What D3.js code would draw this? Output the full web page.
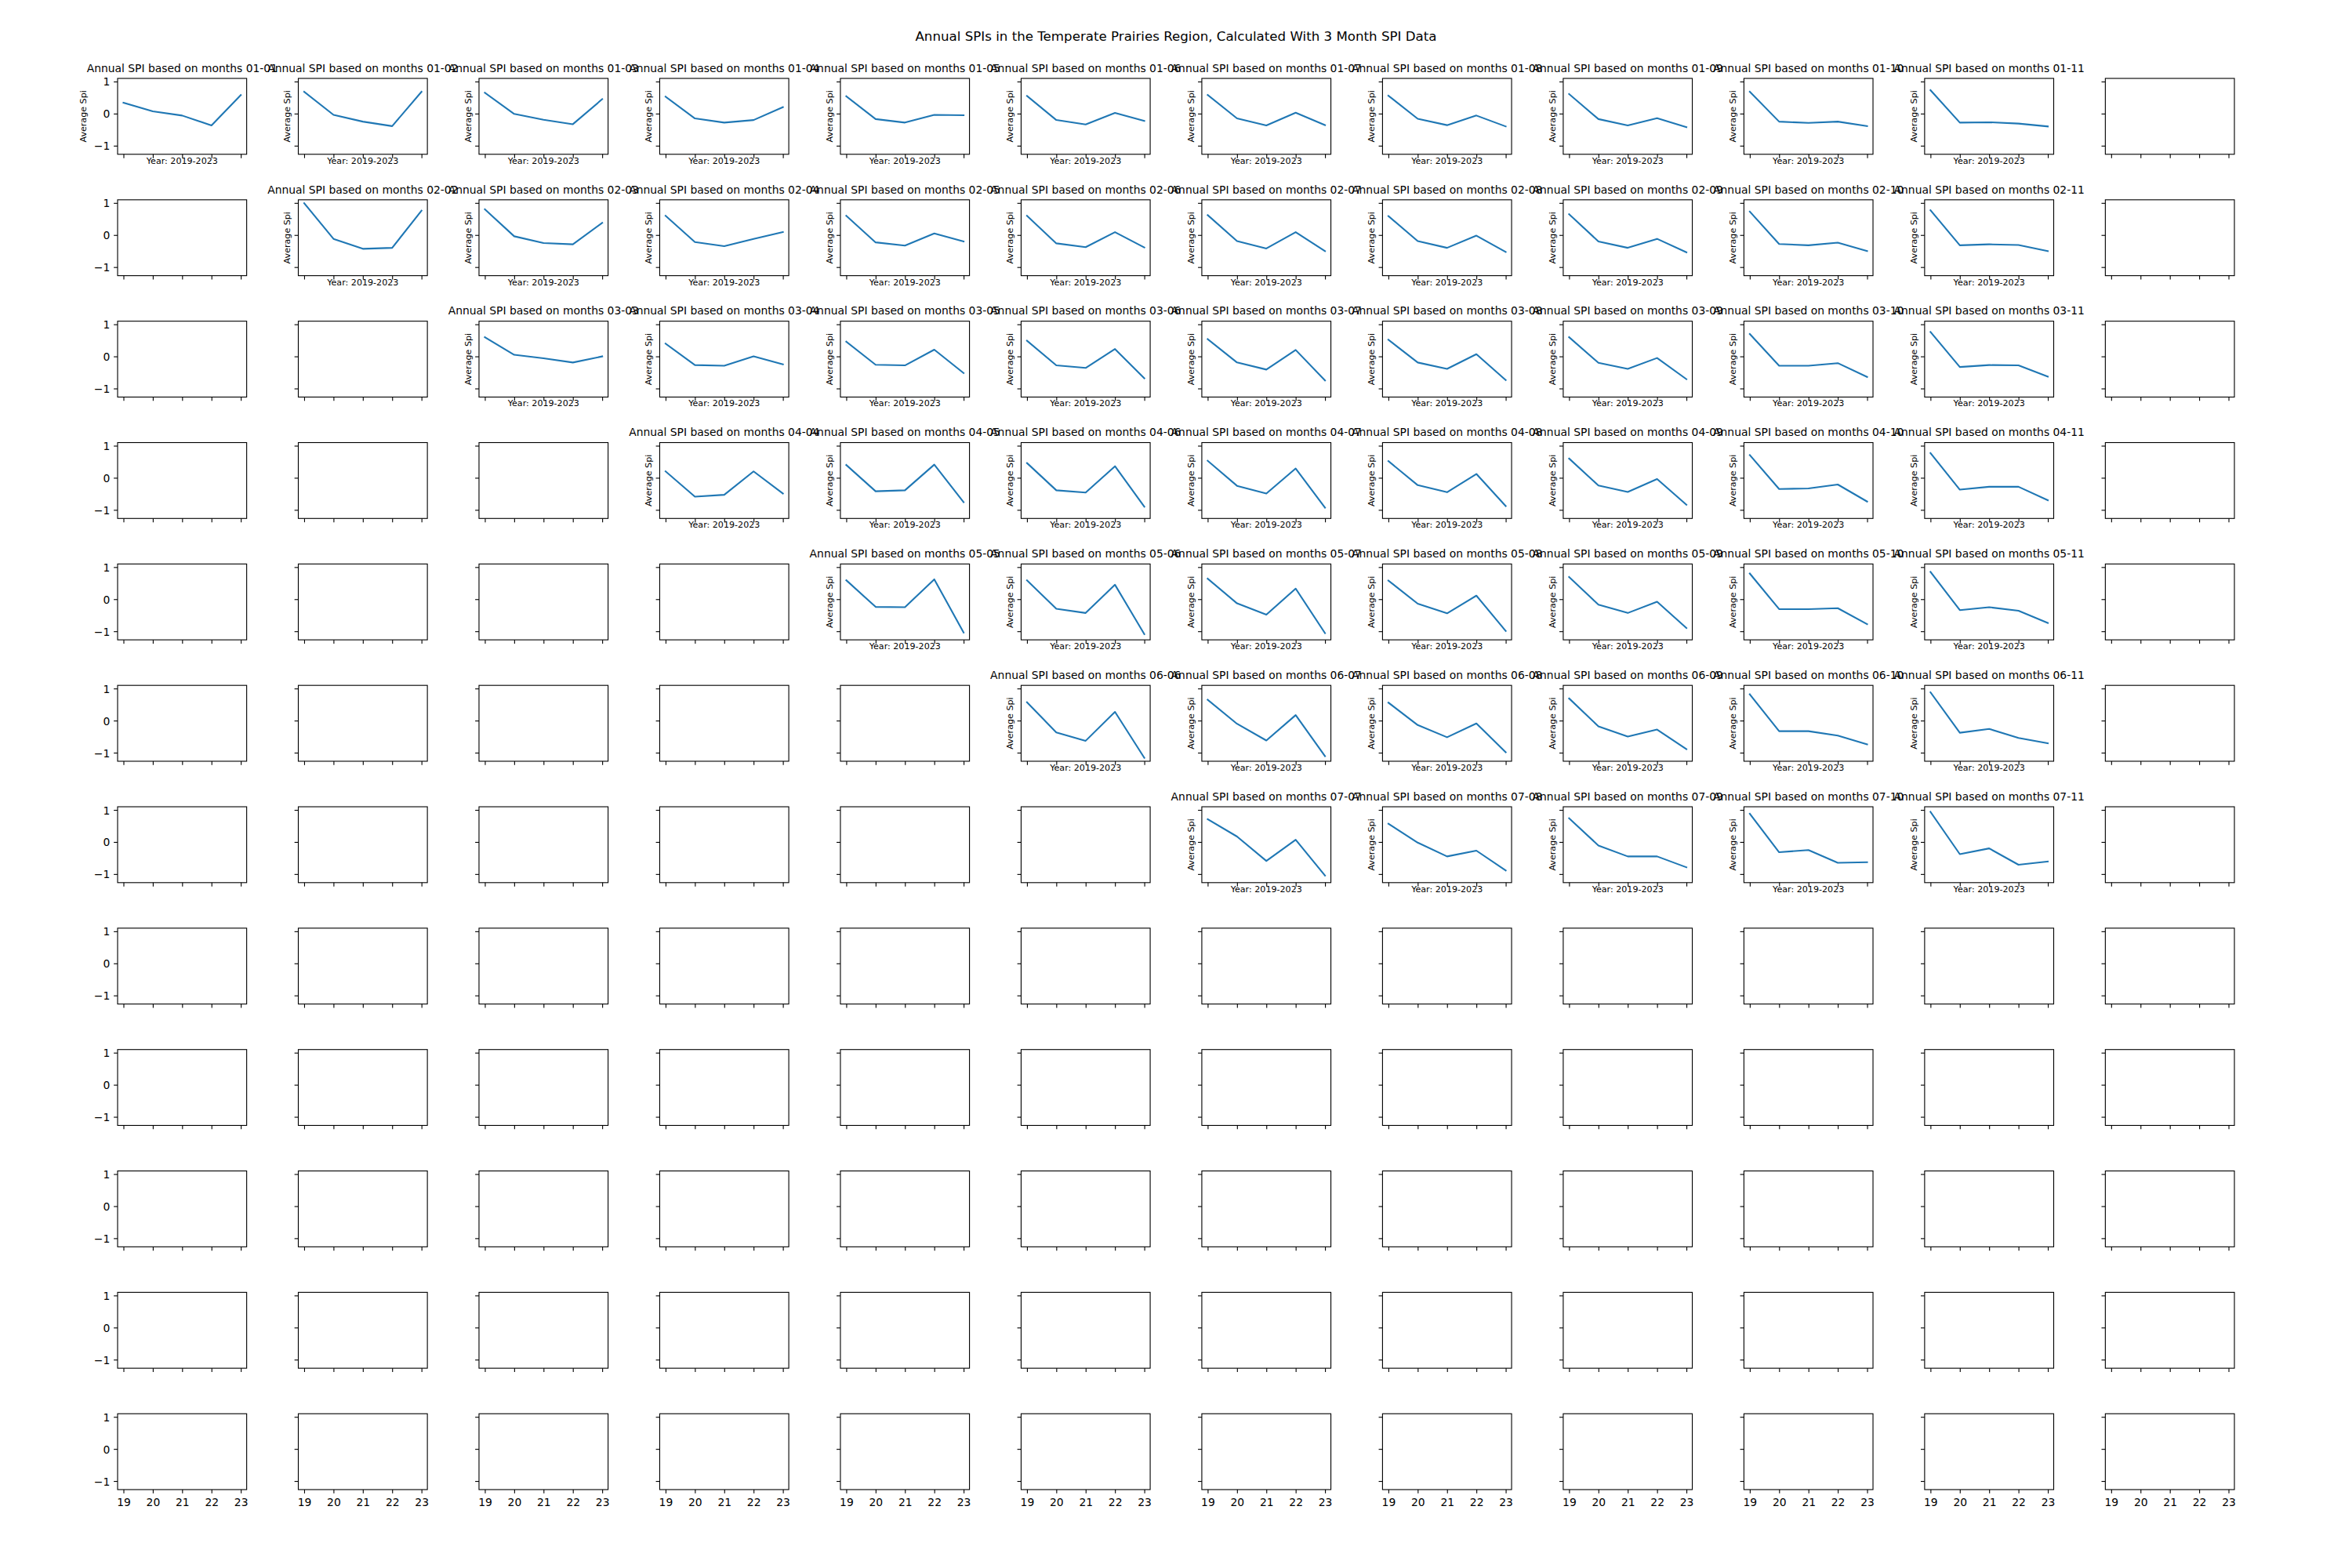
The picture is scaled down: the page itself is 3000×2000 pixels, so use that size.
<!DOCTYPE html>
<html>
<head>
<meta charset="utf-8">
<script src="https://cdn.jsdelivr.net/npm/d3@7"></script>
<style>
  body { margin: 0; background: #ffffff; }
  svg text { font-family: "DejaVu Sans", sans-serif; fill: #000; }
</style>
</head>
<body>
<svg id="chart" width="3000" height="2000"></svg>
<script>
// ---------------- DATA ----------------
const chartTitle = "Annual SPIs in the Temperate Prairies Region, Calculated With 3 Month SPI Data";
const panelTitlePrefix = "Annual SPI based on months ";
const xAxisLabel = "Year: 2019-2023";
const yAxisLabel = "Average Spi";
const years = [19, 20, 21, 22, 23];
const yTickValues = [-1, 0, 1];
const monthCodes = ["01","02","03","04","05","06","07","08","09","10","11","12"];

// Each array: rows are end months starting at the start month, values for years 19..23
const spiStart01 = [
  [0.34, 0.07, -0.06, -0.37, 0.58],
  [0.68, -0.04, -0.25, -0.39, 0.68],
  [0.65, -0.01, -0.19, -0.33, 0.45],
  [0.53, -0.15, -0.28, -0.20, 0.20],
  [0.54, -0.17, -0.28, -0.04, -0.05],
  [0.55, -0.20, -0.34, 0.02, -0.23],
  [0.58, -0.15, -0.37, 0.03, -0.36],
  [0.56, -0.16, -0.36, -0.06, -0.40],
  [0.61, -0.17, -0.37, -0.14, -0.42],
  [0.68, -0.25, -0.29, -0.25, -0.39],
  [0.73, -0.28, -0.27, -0.31, -0.40]
];
const spiStart02 = [
  [0.99, -0.12, -0.43, -0.40, 0.76],
  [0.80, -0.04, -0.25, -0.29, 0.38],
  [0.60, -0.22, -0.35, -0.12, 0.09],
  [0.60, -0.23, -0.33, 0.05, -0.20],
  [0.60, -0.26, -0.38, 0.09, -0.39],
  [0.62, -0.19, -0.42, 0.09, -0.50],
  [0.59, -0.19, -0.40, -0.02, -0.53],
  [0.65, -0.20, -0.40, -0.12, -0.54],
  [0.73, -0.28, -0.32, -0.24, -0.50],
  [0.77, -0.32, -0.29, -0.31, -0.50]
];
const spiStart03 = [
  [0.60, 0.05, -0.06, -0.19, 0.00],
  [0.40, -0.27, -0.29, 0.00, -0.25],
  [0.46, -0.26, -0.28, 0.21, -0.52],
  [0.49, -0.28, -0.36, 0.23, -0.68],
  [0.54, -0.19, -0.41, 0.20, -0.75],
  [0.52, -0.19, -0.39, 0.07, -0.74],
  [0.60, -0.20, -0.39, -0.05, -0.71],
  [0.70, -0.29, -0.29, -0.21, -0.64],
  [0.76, -0.33, -0.27, -0.28, -0.63]
];
const spiStart04 = [
  [0.20, -0.59, -0.53, 0.20, -0.49],
  [0.40, -0.42, -0.39, 0.41, -0.76],
  [0.46, -0.39, -0.46, 0.36, -0.90],
  [0.53, -0.25, -0.49, 0.29, -0.93],
  [0.52, -0.23, -0.45, 0.12, -0.88],
  [0.60, -0.24, -0.44, -0.04, -0.84],
  [0.71, -0.35, -0.33, -0.21, -0.74],
  [0.77, -0.37, -0.28, -0.28, -0.70]
];
const spiStart05 = [
  [0.59, -0.24, -0.25, 0.62, -1.04],
  [0.59, -0.30, -0.43, 0.45, -1.09],
  [0.64, -0.13, -0.48, 0.33, -1.06],
  [0.58, -0.14, -0.44, 0.11, -0.99],
  [0.69, -0.17, -0.43, -0.08, -0.90],
  [0.80, -0.31, -0.31, -0.28, -0.78],
  [0.85, -0.34, -0.25, -0.36, -0.74]
];
const spiStart06 = [
  [0.57, -0.37, -0.63, 0.27, -1.16],
  [0.65, -0.10, -0.62, 0.17, -1.11],
  [0.56, -0.14, -0.52, -0.09, -0.99],
  [0.69, -0.18, -0.50, -0.28, -0.89],
  [0.82, -0.33, -0.33, -0.47, -0.74],
  [0.88, -0.38, -0.26, -0.54, -0.71]
];
const spiStart07 = [
  [0.71, 0.17, -0.59, 0.07, -1.05],
  [0.57, -0.02, -0.45, -0.27, -0.89],
  [0.74, -0.11, -0.45, -0.45, -0.79],
  [0.88, -0.32, -0.25, -0.65, -0.63],
  [0.94, -0.38, -0.20, -0.71, -0.61]
];
const seriesByStartMonth = [spiStart01, spiStart02, spiStart03, spiStart04, spiStart05, spiStart06, spiStart07];

// ---------------- LAYOUT ----------------
const W = 3000, H = 2000;
const nRows = 12, nCols = 12;
const figLeft = 0.05 * W, figRight = 0.95 * W, figTop = 0.05 * H, figBottom = 0.95 * H;
const wspace = 0.4, hspace = 0.6;
const pw = (figRight - figLeft) / (nCols + (nCols - 1) * wspace);
const ph = (figBottom - figTop) / (nRows + (nRows - 1) * hspace);
const PT = 100 / 72; // px per point
const tickLen = 3.5 * PT, tickPad = 3.5 * PT;

// build panel list
const panels = [];
for (let r = 0; r < nRows; r++) {
  for (let c = 0; c < nCols; c++) {
    let values = null, title = null;
    if (r < seriesByStartMonth.length && c >= r && c - r < seriesByStartMonth[r].length) {
      values = seriesByStartMonth[r][c - r];
      title = panelTitlePrefix + monthCodes[r] + "-" + monthCodes[c];
    }
    panels.push({ r, c, values, title });
  }
}

// shared scales (matplotlib-like 5% margins)
const allVals = seriesByStartMonth.flat(2);
const [vMin, vMax] = d3.extent(allVals);
const vPad = (vMax - vMin) * 0.05;
const [xMin, xMax] = d3.extent(years);
const xPad = (xMax - xMin) * 0.05;
const x = d3.scaleLinear().domain([xMin - xPad, xMax + xPad]).range([0, pw]);
const y = d3.scaleLinear().domain([vMin - vPad, vMax + vPad]).range([ph, 0]);

const svg = d3.select("#chart");
svg.append("rect").attr("width", W).attr("height", H).attr("fill", "#ffffff");

svg.append("text")
  .attr("x", W / 2).attr("y", 52)
  .attr("text-anchor", "middle")
  .style("font-size", (12 * PT) + "px")
  .text(chartTitle);

const line = d3.line().x((d, i) => x(years[i])).y(d => y(d));
const fmt = d3.format("d");

panels.forEach(p => {
  const px = figLeft + p.c * pw * (1 + wspace);
  const py = figTop + p.r * ph * (1 + hspace);
  const g = svg.append("g").attr("transform", `translate(${px},${py})`);

  // x axis
  const xa = d3.axisBottom(x).tickValues(years).tickSize(tickLen).tickPadding(tickPad)
    .tickFormat(p.r === nRows - 1 ? fmt : () => "");
  const gx = g.append("g").attr("transform", `translate(0,${ph})`).call(xa);
  gx.select(".domain").remove();
  gx.selectAll(".tick line").attr("stroke", "#000").attr("stroke-width", 0.8 * PT);
  gx.selectAll(".tick text").attr("y", 21.4).attr("dy", 0)
    .attr("font-family", null).attr("font-size", null)
    .style("font-size", (10 * PT) + "px");

  // y axis
  const ya = d3.axisLeft(y).tickValues(yTickValues).tickSize(tickLen).tickPadding(tickPad)
    .tickFormat(p.c === 0 ? fmt : () => "");
  const gy = g.append("g").call(ya);
  gy.select(".domain").remove();
  gy.selectAll(".tick line").attr("stroke", "#000").attr("stroke-width", 0.8 * PT);
  gy.selectAll(".tick text").attr("dy", "0.36em")
    .style("font-size", (10 * PT) + "px");
  gx.attr("font-family", null).attr("font-size", null);
  gy.attr("font-family", null).attr("font-size", null);

  if (p.values) {
    g.append("path")
      .datum(p.values)
      .attr("d", line)
      .attr("fill", "none")
      .attr("stroke", "#1f77b4")
      .attr("stroke-width", 1.5 * PT)
      .attr("stroke-linejoin", "round")
      .attr("stroke-linecap", "square");

    g.append("text")
      .attr("x", pw / 2).attr("y", -8.3)
      .attr("text-anchor", "middle")
      .style("font-size", (10 * PT) + "px")
      .text(p.title);

    g.append("text")
      .attr("x", pw / 2).attr("y", ph + 12)
      .attr("text-anchor", "middle")
      .style("font-size", (8 * PT) + "px")
      .text(xAxisLabel);

    const lx = p.c === 0 ? -40 : -10;
    g.append("text")
      .attr("transform", `translate(${lx},${ph / 2}) rotate(-90)`)
      .attr("text-anchor", "middle")
      .style("font-size", (8 * PT) + "px")
      .text(yAxisLabel);
  }

  // spines
  g.append("rect")
    .attr("width", pw).attr("height", ph)
    .attr("fill", "none").attr("stroke", "#000")
    .attr("stroke-width", 0.8 * PT);
});
</script>
</body>
</html>
